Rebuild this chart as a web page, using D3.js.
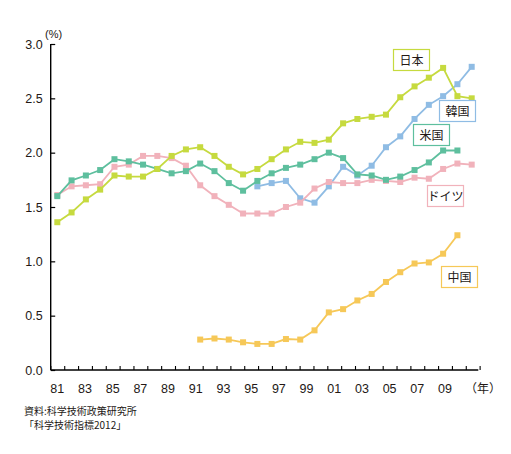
<!DOCTYPE html>
<html><head><meta charset="utf-8">
<script src="https://cdn.jsdelivr.net/npm/d3@7"></script>
<style>
html,body{margin:0;padding:0;background:#fff;}
svg{display:block;font-family:"Liberation Sans","Noto Sans CJK JP",sans-serif;}
</style></head>
<body><svg id="c" width="511" height="454"></svg>
<script>
const years = d3.range(1981, 2011);
const japan = [1.36,1.45,1.57,1.66,1.79,1.78,1.78,1.85,1.97,2.03,2.05,1.97,1.87,1.80,1.85,1.94,2.03,2.10,2.09,2.12,2.27,2.31,2.33,2.35,2.51,2.61,2.69,2.78,2.52,2.50];
const usa = [1.60,1.745,1.79,1.84,1.94,1.92,1.89,1.85,1.81,1.83,1.90,1.83,1.72,1.65,1.74,1.81,1.86,1.89,1.94,2.00,1.95,1.80,1.79,1.75,1.78,1.84,1.91,2.02,2.02,null];
const germany = [1.61,1.69,1.70,1.71,1.87,1.89,1.97,1.97,1.95,1.88,1.70,1.60,1.52,1.44,1.44,1.44,1.50,1.54,1.67,1.73,1.72,1.72,1.75,1.74,1.73,1.77,1.76,1.85,1.90,1.89];
const korea = [null,null,null,null,null,null,null,null,null,null,null,null,null,null,1.69,1.72,1.74,1.58,1.54,1.69,1.87,1.79,1.88,2.05,2.15,2.31,2.44,2.52,2.63,2.79];
const china = [null,null,null,null,null,null,null,null,null,null,0.28,0.29,0.28,0.255,0.24,0.24,0.285,0.28,0.365,0.53,0.56,0.64,0.70,0.81,0.90,0.98,0.99,1.07,1.24,null];
const yTicks = [0, 0.5, 1.0, 1.5, 2.0, 2.5, 3.0];
const xLabelYears = d3.range(1981, 2010, 2);
const seriesNames = ["韓国","ドイツ","米国","日本","中国"];
const seriesColors = {"日本":"#c6da3f","韓国":"#8fbce4","米国":"#5ebf9e","ドイツ":"#f1b2bb","中国":"#f6c858"};
const seriesData = {"日本":japan,"韓国":korea,"米国":usa,"ドイツ":germany,"中国":china};
const labelPos = {"日本":[393.5,49.5],"韓国":[439.5,100.5],"米国":[413.5,124.5],"ドイツ":[427.5,185.5],"中国":[441.5,266.5]};
const sourceLines = ["資料:科学技術政策研究所","「科学技術指標2012」"];

const svg = d3.select("#c");
const y = d3.scaleLinear().domain([0,3]).range([370,44]);
const x = d3.scaleLinear().domain([1981,2010]).range([57.3,471.7]);
const xa = d3.scaleLinear().domain([1981,2009]).range([57.3,445]);
const ink = "#231815";

// y axis
const yAxis = svg.append("g").attr("transform","translate(50.7,0)")
  .call(d3.axisLeft(y).tickValues(yTicks).tickSize(-4.5).tickPadding(8).tickFormat(d3.format(".1f")));
yAxis.select(".domain").attr("stroke","#000").attr("stroke-width",1.4).attr("d","M0,44V370");
yAxis.selectAll(".tick line").attr("stroke","#000").attr("stroke-width",1.2);
yAxis.selectAll(".tick text").attr("font-size",12.5).attr("fill",ink).attr("font-family","Liberation Sans");

// x axis ticks (half-year boundaries)
const tickVals = d3.range(1980.5, 2012, 1);
const xAxis = svg.append("g").attr("transform","translate(0,370)")
  .call(d3.axisBottom(xa).tickValues(tickVals).tickSize(-4).tickFormat(""));
xAxis.select(".domain").attr("stroke","#000").attr("stroke-width",1.4).attr("d","M50.7,0H478.3");
xAxis.selectAll(".tick line").attr("stroke","#000").attr("stroke-width",1.1);
svg.append("g").selectAll("text").data(xLabelYears).join("text")
  .attr("x",d=>xa(d)).attr("y",392.5).attr("text-anchor","middle")
  .attr("font-size",12.5).attr("fill",ink)
  .text(d=>String(d%100).padStart(2,"0"));
svg.append("text").attr("x",483).attr("y",392.5).attr("text-anchor","middle")
  .attr("font-size",12).attr("fill",ink).attr("font-family","Noto Sans CJK JP").text("（年）");
svg.append("text").attr("x",45).attr("y",38).attr("font-size",11).attr("fill",ink).text("(%)");

// series
const line = d3.line().defined(d=>d.v!=null).x(d=>x(d.year)).y(d=>y(d.v));
seriesNames.forEach(name=>{
  const pts = years.map((yr,i)=>({year:yr, v:seriesData[name][i]}));
  const g = svg.append("g");
  g.append("path").datum(pts).attr("d",line).attr("fill","none")
    .attr("stroke",seriesColors[name]).attr("stroke-width",1.8);
  g.selectAll("rect").data(pts.filter(d=>d.v!=null)).join("rect")
    .attr("x",d=>x(d.year)-3).attr("y",d=>y(d.v)-3).attr("width",6).attr("height",6)
    .attr("fill",seriesColors[name]);
});

// labels
Object.keys(labelPos).forEach(name=>{
  const [lx,ly] = labelPos[name];
  svg.append("rect").attr("x",lx).attr("y",ly).attr("width",36).attr("height",21)
    .attr("fill","#fff").attr("stroke",seriesColors[name]).attr("stroke-width",1.2);
  svg.append("text").attr("x",lx+18).attr("y",ly+15).attr("text-anchor","middle")
    .attr("font-size",12).attr("fill",ink).attr("font-family","Noto Sans CJK JP").text(name);
});

// source
sourceLines.forEach((t,i)=>{
  svg.append("text").attr("x",24).attr("y",414.5+i*14.5).attr("font-size",10).attr("fill",ink)
    .attr("font-family","Noto Sans CJK JP").text(t);
});
</script></body></html>
